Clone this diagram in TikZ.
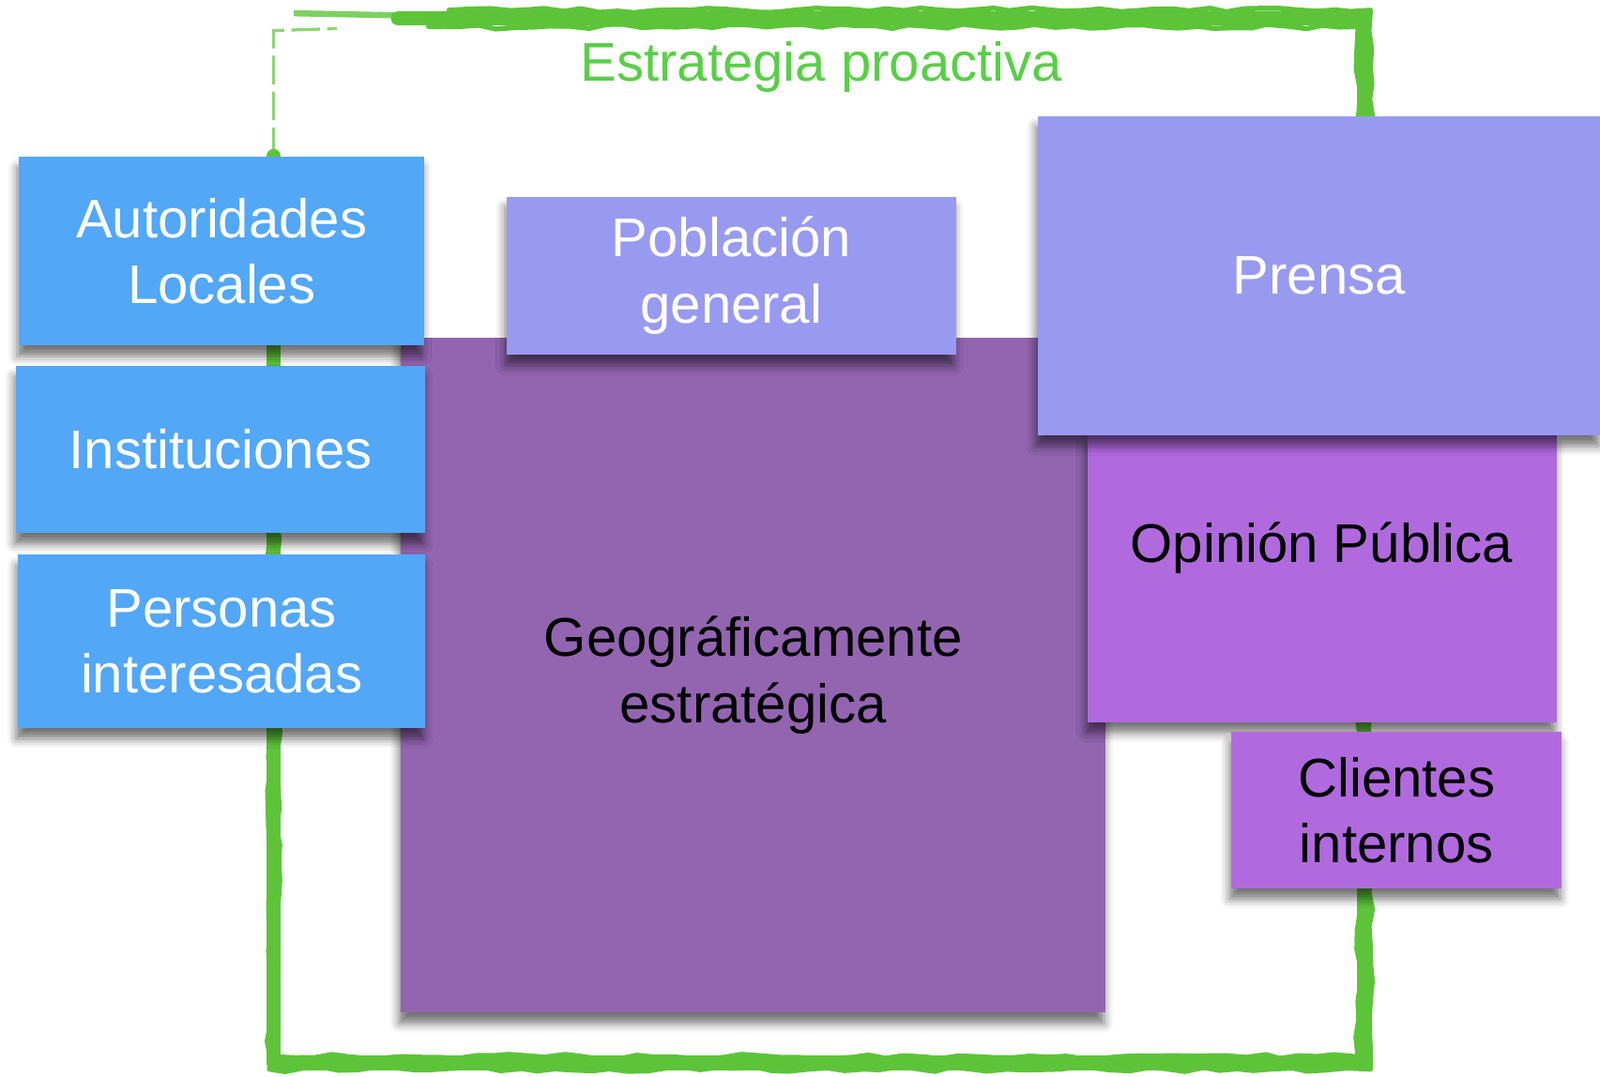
\documentclass[tikz,border=0pt]{standalone}
\usepackage{fontspec}
\setmainfont{Liberation Sans}
\usetikzlibrary{shadows.blur,decorations.pathmorphing,positioning}
\definecolor{framegreen}{HTML}{5DC439}
\definecolor{titlegreen}{HTML}{58CF47}
\definecolor{skyblue}{HTML}{52A7F7}
\definecolor{lavender}{HTML}{989AF0}
\definecolor{plum}{HTML}{9365B0}
\definecolor{orchid}{HTML}{B06ADE}
\tikzset{
  box/.style={rectangle, inner sep=0pt, anchor=north west, align=center,
    font=\fontsize{15.2}{18.5}\selectfont,
    blur shadow={shadow xshift=-0.5pt, shadow yshift=-3pt, shadow blur radius=2.5pt, shadow opacity=55}},
  bluebox/.style={box, fill=skyblue, text=white},
  lilabox/.style={box, fill=lavender, text=white},
  orchidbox/.style={box, fill=orchid, text=black},
  brush/.style={draw=framegreen, line width=1.4mm, line cap=round, line join=round},
  rough/.style={brush, line width=0.5mm, decorate, decoration={random steps, segment length=5pt, amplitude=0.7pt}},
}
\begin{document}
\begin{tikzpicture}
  \useasboundingbox (0,0) rectangle (15.68,-10.55);
  % frame
  \draw[framegreen, line width=0.3mm, dash pattern=on 8pt off 2pt, opacity=0.7]
    (2.68,-1.53) -- (2.68,-0.3) -- (3.3,-0.28);
  \draw[framegreen, line width=0.6mm, opacity=0.8] (2.88,-0.13) -- (3.9,-0.15);
  \draw[brush] (2.68,-1.53) -- (2.68,-10.42) -- (13.37,-10.42) -- (13.37,-0.18) -- (3.9,-0.18);
  \draw[rough] (2.72,-1.6) -- (2.72,-10.36) -- (13.31,-10.36) -- (13.31,-0.26) -- (4.2,-0.26);
  \draw[rough] (2.64,-1.6) -- (2.64,-10.48) -- (13.43,-10.48) -- (13.43,-0.1) -- (4.4,-0.1);
  \node[text=titlegreen, font=\fontsize{15.2}{18.5}\selectfont] (title) at (8.05,-0.66) {Estrategia proactiva};
  % centre
  \node[box, fill=plum, text=black, minimum width=6.91cm, minimum height=6.62cm] (geo) at (3.92,-3.30) {Geográficamente\\estratégica};
  \node[lilabox, minimum width=4.40cm, minimum height=1.55cm] (poblacion) at (4.96,-1.92) {Población\\general};
  % right
  \node[orchidbox, minimum width=4.60cm, minimum height=2.81cm] (opinion) at (10.65,-4.26) {};
  \node[text=black, font=\fontsize{15.2}{18.5}\selectfont] (opiniontext) at (12.95,-5.37) {Opinión Pública};
  \node[lilabox, minimum width=5.52cm, minimum height=3.13cm] (prensa) at (10.16,-1.13) {Prensa};
  \node[orchidbox, minimum width=3.24cm, minimum height=1.53cm] (clientes) at (12.06,-7.17) {Clientes\\internos};
  % left
  \node[bluebox, minimum width=3.97cm, minimum height=1.85cm] (autoridades) at (0.18,-1.53) {Autoridades\\Locales};
  \node[bluebox, minimum width=4.01cm, minimum height=1.64cm] (instituciones) at (0.15,-3.58) {Instituciones};
  \node[bluebox, minimum width=3.99cm, minimum height=1.70cm] (personas) at (0.17,-5.43) {Personas\\interesadas};
\end{tikzpicture}
\end{document}
